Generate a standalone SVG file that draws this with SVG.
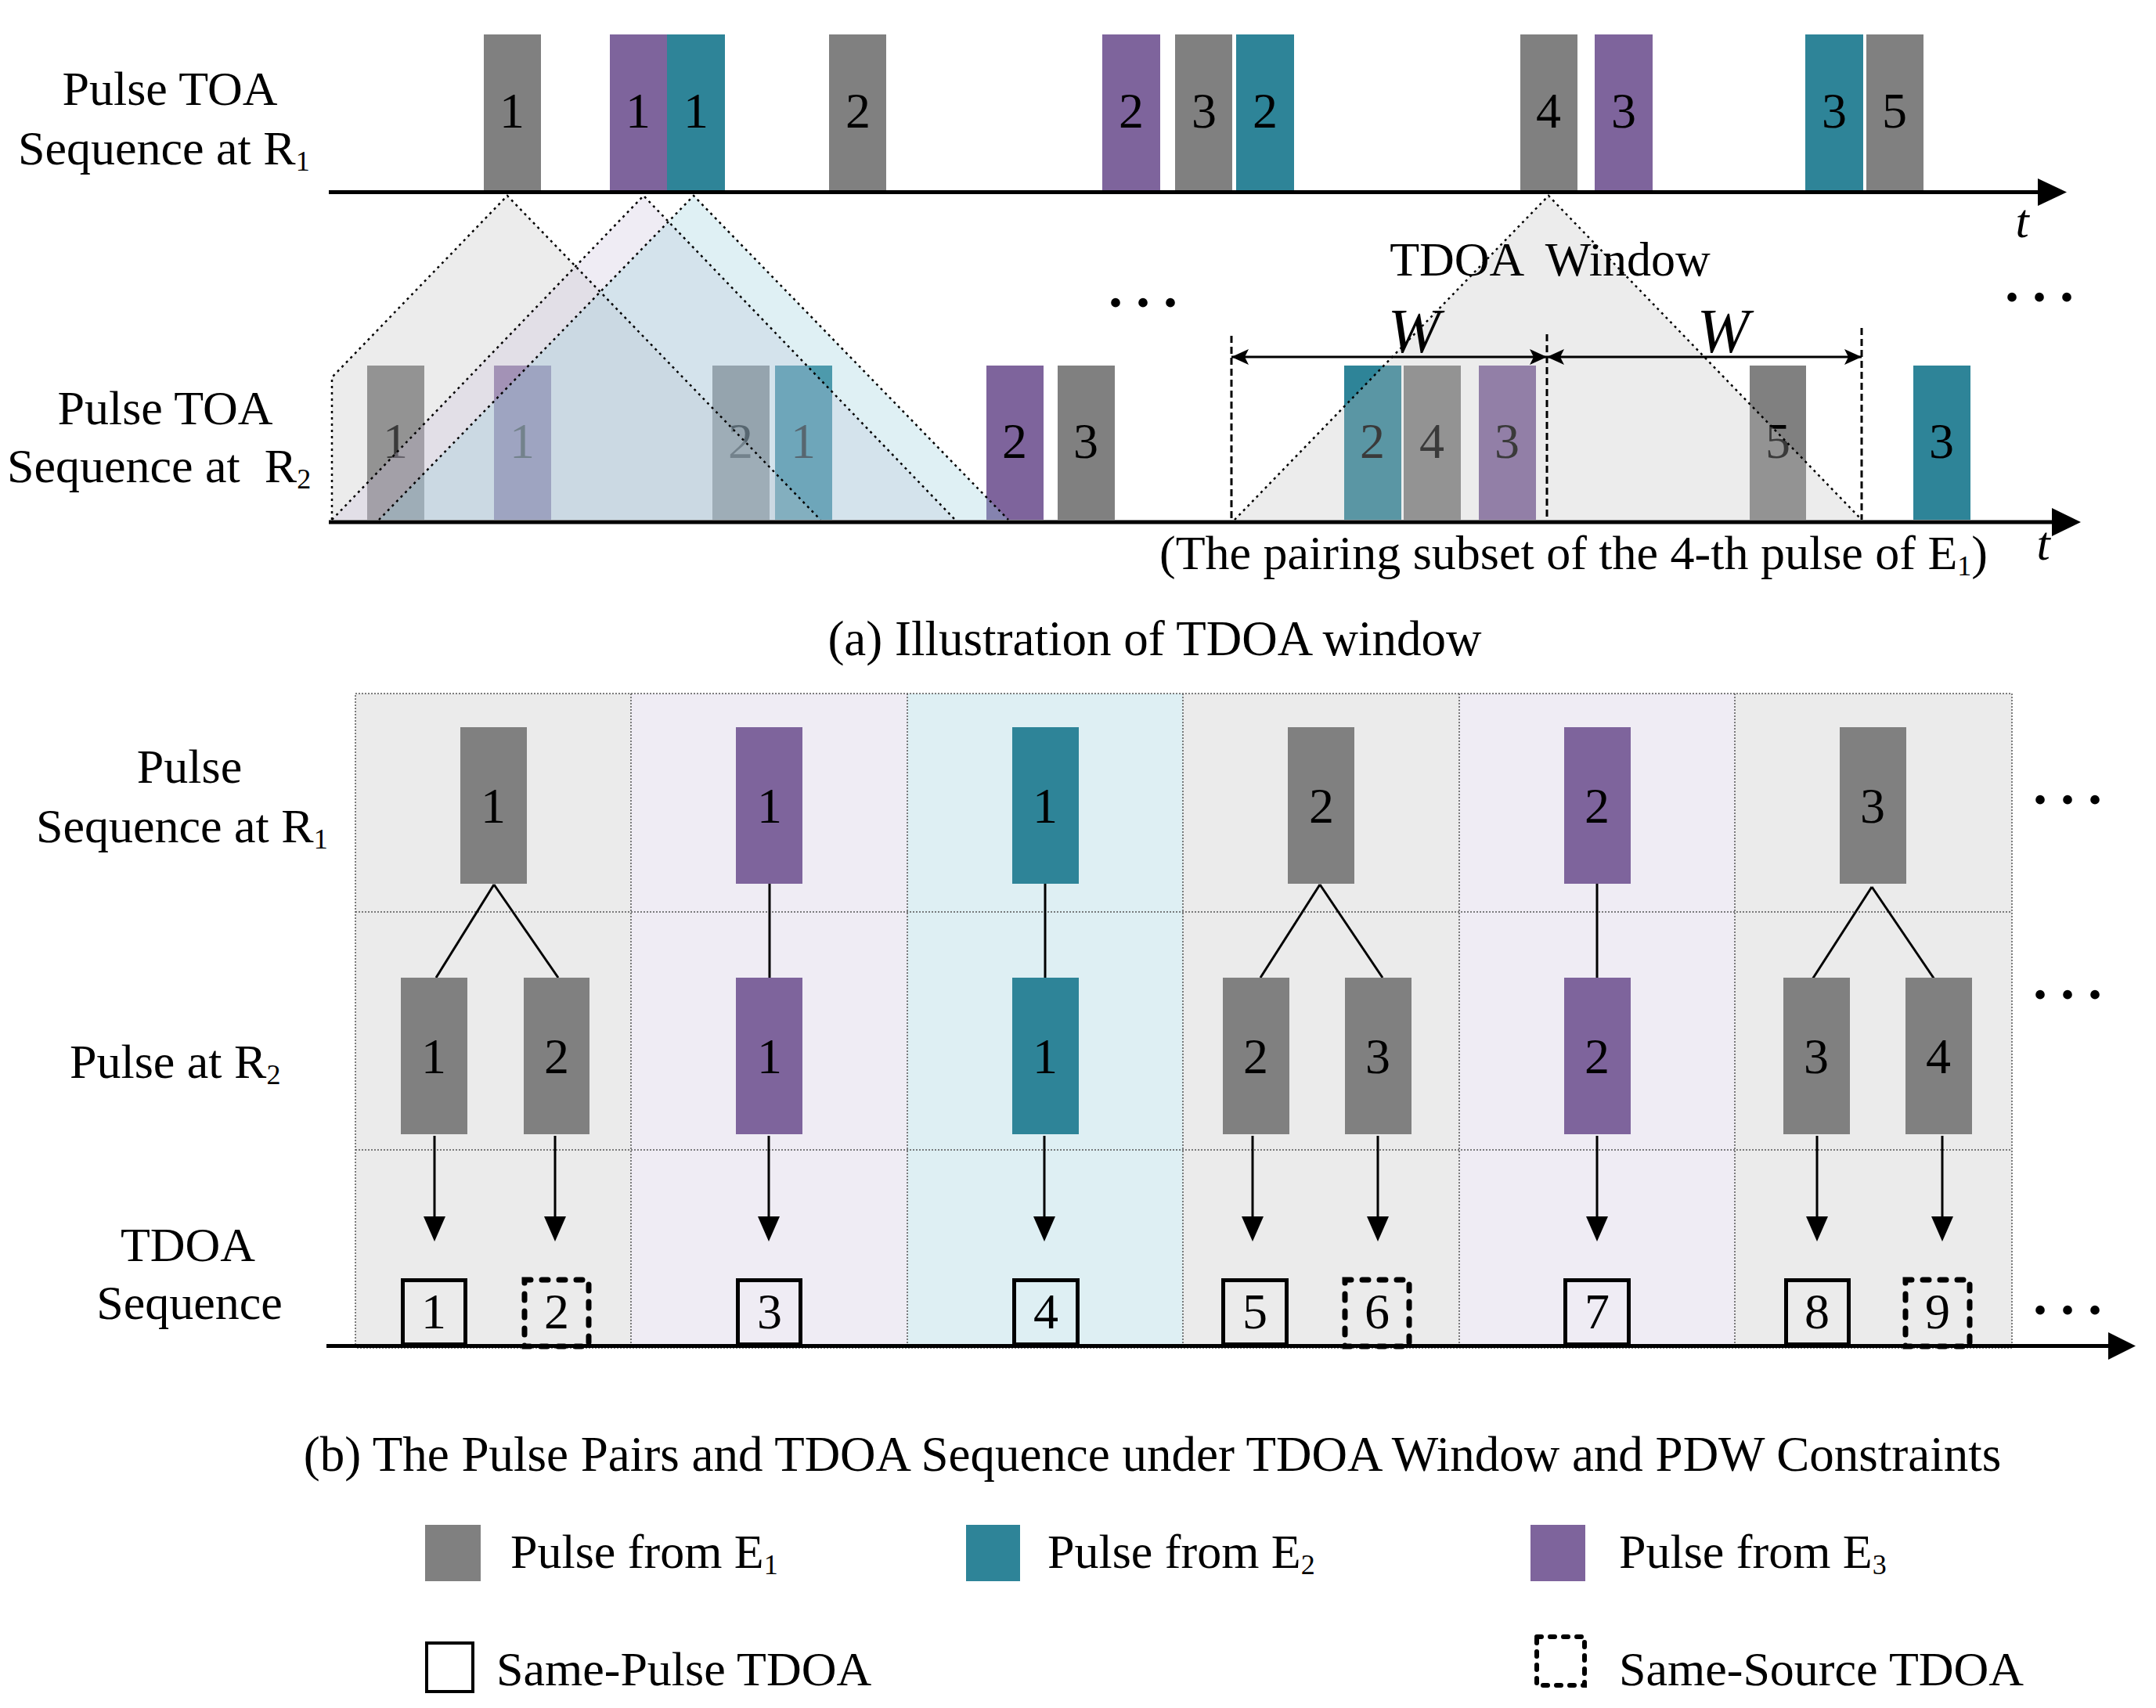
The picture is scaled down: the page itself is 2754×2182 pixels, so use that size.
<svg xmlns="http://www.w3.org/2000/svg" width="2754" height="2182" viewBox="0 0 2754 2182">
<style>
text{font-family:"Liberation Serif","Times New Roman",serif;fill:#000}
.lbl{font-size:62px}
.cap{font-size:63px;text-anchor:middle}
.num{font-size:64px;text-anchor:middle}
.mid{text-anchor:middle}
.it{font-style:italic}
.sub{font-size:36px}
.g{fill:#808080}
.p{fill:#7e649c}
.t{fill:#2e8498}
.ax{stroke:#000;stroke-width:5;fill:none}
.dot{stroke:#000;stroke-width:2.5;stroke-dasharray:3 5;fill:none}
.grid{stroke:#555;stroke-width:1.5;stroke-dasharray:2 2;fill:none}
.ln{stroke:#000;stroke-width:3;fill:none}
.arr{stroke:#000;stroke-width:3;fill:none;marker-end:url(#ah)}
.solid{fill:none;stroke:#000;stroke-width:5}
.dash{fill:none;stroke:#000;stroke-width:7;stroke-dasharray:8 14;stroke-linecap:round}
.vdash{stroke:#000;stroke-width:3;stroke-dasharray:9 5;fill:none}
.dots{font-size:72px;font-weight:bold;letter-spacing:17px}
</style>
<defs>
<marker id="ah" markerUnits="userSpaceOnUse" markerWidth="34" markerHeight="30" refX="4" refY="14" orient="auto">
<path d="M0,0 L32,14 L0,28 z" fill="#000"/>
</marker>
<marker id="st" markerUnits="userSpaceOnUse" markerWidth="24" markerHeight="22" refX="22" refY="10" orient="auto-start-reverse">
<path d="M0,0 L22,10 L0,20 L5,10 z" fill="#000"/>
</marker>
</defs>
<rect width="2754" height="2182" fill="#fff"/>

<!-- ===== Part (a) ===== -->
<g id="labels-a">
<text class="lbl mid" x="217" y="134">Pulse TOA</text>
<text class="lbl" x="23" y="210">Sequence at R<tspan class="sub" dy="8">1</tspan></text>
<text class="lbl mid" x="211" y="542">Pulse TOA</text>
<text class="lbl" x="9" y="616" style="white-space:pre">Sequence at  R<tspan class="sub" dy="8">2</tspan></text>
</g>

<g id="r1-pulses">
<g id="r1-e1-1"><rect class="g" x="618" y="44" width="73" height="199"/><text class="num" x="654" y="163">1</text></g>
<g id="r1-e3-1"><rect class="p" x="779" y="44" width="73" height="199"/><text class="num" x="815" y="163">1</text></g>
<g id="r1-e2-1"><rect class="t" x="852" y="44" width="74" height="199"/><text class="num" x="889" y="163">1</text></g>
<g id="r1-e1-2"><rect class="g" x="1059" y="44" width="73" height="199"/><text class="num" x="1096" y="163">2</text></g>
<g id="r1-e3-2"><rect class="p" x="1408" y="44" width="74" height="199"/><text class="num" x="1445" y="163">2</text></g>
<g id="r1-e1-3"><rect class="g" x="1501" y="44" width="73" height="199"/><text class="num" x="1538" y="163">3</text></g>
<g id="r1-e2-2"><rect class="t" x="1579" y="44" width="74" height="199"/><text class="num" x="1616" y="163">2</text></g>
<g id="r1-e1-4"><rect class="g" x="1942" y="44" width="73" height="199"/><text class="num" x="1978" y="163">4</text></g>
<g id="r1-e3-3"><rect class="p" x="2037" y="44" width="74" height="199"/><text class="num" x="2074" y="163">3</text></g>
<g id="r1-e2-3"><rect class="t" x="2306" y="44" width="74" height="199"/><text class="num" x="2343" y="163">3</text></g>
<g id="r1-e1-5"><rect class="g" x="2384" y="44" width="73" height="199"/><text class="num" x="2420" y="163">5</text></g>
</g>

<g id="r2-pulses">
<g id="r2-e1-1"><rect class="g" x="469" y="467" width="73" height="197"/><text class="num" x="505" y="585">1</text></g>
<g id="r2-e3-1"><rect class="p" x="631" y="467" width="73" height="197"/><text class="num" x="667" y="585">1</text></g>
<g id="r2-e1-2"><rect class="g" x="910" y="467" width="73" height="197"/><text class="num" x="946" y="585">2</text></g>
<g id="r2-e2-1"><rect class="t" x="990" y="467" width="73" height="197"/><text class="num" x="1026" y="585">1</text></g>
<g id="r2-e3-2"><rect class="p" x="1260" y="467" width="73" height="197"/><text class="num" x="1296" y="585">2</text></g>
<g id="r2-e1-3"><rect class="g" x="1351" y="467" width="73" height="197"/><text class="num" x="1387" y="585">3</text></g>
<g id="r2-e2-2"><rect class="t" x="1717" y="467" width="73" height="197"/><text class="num" x="1753" y="585">2</text></g>
<g id="r2-e1-4"><rect class="g" x="1793" y="467" width="73" height="197"/><text class="num" x="1829" y="585">4</text></g>
<g id="r2-e3-3"><rect class="p" x="1889" y="467" width="73" height="197"/><text class="num" x="1925" y="585">3</text></g>
<g id="r2-e1-5"><rect class="g" x="2235" y="467" width="72" height="197"/><text class="num" x="2271" y="585">5</text></g>
<g id="r2-e2-3"><rect class="t" x="2444" y="467" width="73" height="197"/><text class="num" x="2480" y="585">3</text></g>
</g>

<g id="windows">
<path d="M424,664 L424,482 L648,250 L1048,664 z" fill="#bfbfbf" fill-opacity="0.3"/>
<path d="M424,664 L822,250 L1220,664 z" fill="#c9c0da" fill-opacity="0.3"/>
<path d="M484,664 L886,250 L1288,664 z" fill="#94cdda" fill-opacity="0.3"/>
<path d="M1577,664 L1978,250 L2378,664 z" fill="#bfbfbf" fill-opacity="0.3"/>
<path class="dot" d="M424,664 L424,482 L648,250 L1048,664"/>
<path class="dot" d="M424,664 L822,250 L1220,664"/>
<path class="dot" d="M484,664 L886,250 L1288,664"/>
<path class="dot" d="M1577,664 L1978,250 L2378,664"/>
</g>

<g id="connectors-a">
<line class="ax" x1="420" y1="245.5" x2="2606" y2="245.5"/>
<polygon points="2603,228 2640,245.5 2603,263" fill="#000"/>
<line class="ax" x1="420" y1="667" x2="2624" y2="667"/>
<polygon points="2621,649 2658,667 2621,685" fill="#000"/>
<line class="vdash" x1="1573" y1="429" x2="1573" y2="664"/>
<line class="vdash" x1="1976" y1="427" x2="1976" y2="664"/>
<line class="vdash" x1="2378" y1="419" x2="2378" y2="664"/>
<line x1="1573" y1="456" x2="1976" y2="456" stroke="#000" stroke-width="3" marker-start="url(#st)" marker-end="url(#st)"/>
<line x1="1976" y1="456" x2="2378" y2="456" stroke="#000" stroke-width="3" marker-start="url(#st)" marker-end="url(#st)"/>
</g>

<g id="texts-a">
<text class="lbl mid" x="1980" y="352" style="white-space:pre">TDOA  Window</text>
<text class="it mid" x="1806" y="450" font-size="80">W</text>
<text class="it mid" x="2201" y="450" font-size="80">W</text>
<text class="lbl it mid" x="2583" y="303">t</text>
<text class="lbl it mid" x="2610" y="715">t</text>
<text class="dots" x="1416" y="392">...</text>
<text class="dots" x="2561" y="385">...</text>
<text class="lbl" x="1481" y="727">(The pairing subset of the 4-th pulse of E<tspan class="sub" dy="8">1</tspan><tspan dy="-8">)</tspan></text>
<text class="cap" x="1475" y="837">(a) Illustration of TDOA window</text>
</g>

<!-- ===== Part (b) ===== -->
<g id="grid-b">
<rect x="454" y="886" width="352" height="835" fill="#ebebeb"/>
<rect x="806" y="886" width="353" height="835" fill="#efecf4"/>
<rect x="1159" y="886" width="352" height="835" fill="#deeff3"/>
<rect x="1511" y="886" width="353" height="835" fill="#ebebeb"/>
<rect x="1864" y="886" width="352" height="835" fill="#efecf4"/>
<rect x="2216" y="886" width="354" height="835" fill="#ebebeb"/>
<path class="grid" d="M454,886 H2570 V1722 H454 z M806,886 V1722 M1159,886 V1722 M1511,886 V1722 M1864,886 V1722 M2216,886 V1722 M454,1165 H2570 M454,1469 H2570"/>
</g>

<g id="labels-b">
<text class="lbl mid" x="242" y="1000">Pulse</text>
<text class="lbl" x="46" y="1076">Sequence at R<tspan class="sub" dy="8">1</tspan></text>
<text class="lbl" x="89" y="1377">Pulse at R<tspan class="sub" dy="8">2</tspan></text>
<text class="lbl mid" x="240" y="1611">TDOA</text>
<text class="lbl mid" x="242" y="1685">Sequence</text>
</g>

<g id="connectors-b">
<line class="ln" x1="631" y1="1130" x2="557" y2="1249"/>
<line class="ln" x1="631" y1="1130" x2="713" y2="1249"/>
<line class="ln" x1="983" y1="1129" x2="983" y2="1249"/>
<line class="ln" x1="1335" y1="1129" x2="1335" y2="1249"/>
<line class="ln" x1="1686" y1="1130" x2="1610" y2="1249"/>
<line class="ln" x1="1686" y1="1130" x2="1766" y2="1249"/>
<line class="ln" x1="2040" y1="1129" x2="2040" y2="1249"/>
<line class="ln" x1="2391" y1="1133" x2="2315" y2="1251"/>
<line class="ln" x1="2391" y1="1133" x2="2471" y2="1251"/>
<line class="arr" x1="555" y1="1451" x2="555" y2="1558"/>
<line class="arr" x1="709" y1="1451" x2="709" y2="1558"/>
<line class="arr" x1="982" y1="1451" x2="982" y2="1558"/>
<line class="arr" x1="1334" y1="1451" x2="1334" y2="1558"/>
<line class="arr" x1="1600" y1="1451" x2="1600" y2="1558"/>
<line class="arr" x1="1760" y1="1451" x2="1760" y2="1558"/>
<line class="arr" x1="2040" y1="1451" x2="2040" y2="1558"/>
<line class="arr" x1="2321" y1="1451" x2="2321" y2="1558"/>
<line class="arr" x1="2481" y1="1451" x2="2481" y2="1558"/>
<line class="ax" x1="417" y1="1719.5" x2="2696" y2="1719.5"/>
<polygon points="2693,1702 2728,1719.5 2693,1737" fill="#000"/>
</g>

<g id="r1-b">
<g id="b-r1-1"><rect class="g" x="588" y="929" width="85" height="200"/><text class="num" x="630" y="1051">1</text></g>
<g id="b-r1-2"><rect class="p" x="940" y="929" width="85" height="200"/><text class="num" x="983" y="1051">1</text></g>
<g id="b-r1-3"><rect class="t" x="1293" y="929" width="85" height="200"/><text class="num" x="1335" y="1051">1</text></g>
<g id="b-r1-4"><rect class="g" x="1645" y="929" width="85" height="200"/><text class="num" x="1688" y="1051">2</text></g>
<g id="b-r1-5"><rect class="p" x="1998" y="929" width="85" height="200"/><text class="num" x="2040" y="1051">2</text></g>
<g id="b-r1-6"><rect class="g" x="2350" y="929" width="85" height="200"/><text class="num" x="2392" y="1051">3</text></g>
</g>

<g id="r2-b">
<g id="b-r2-1a"><rect class="g" x="512" y="1249" width="85" height="200"/><text class="num" x="554" y="1371">1</text></g>
<g id="b-r2-1b"><rect class="g" x="669" y="1249" width="84" height="200"/><text class="num" x="711" y="1371">2</text></g>
<g id="b-r2-2"><rect class="p" x="940" y="1249" width="85" height="200"/><text class="num" x="983" y="1371">1</text></g>
<g id="b-r2-3"><rect class="t" x="1293" y="1249" width="85" height="200"/><text class="num" x="1335" y="1371">1</text></g>
<g id="b-r2-4a"><rect class="g" x="1562" y="1249" width="85" height="200"/><text class="num" x="1604" y="1371">2</text></g>
<g id="b-r2-4b"><rect class="g" x="1718" y="1249" width="85" height="200"/><text class="num" x="1760" y="1371">3</text></g>
<g id="b-r2-5"><rect class="p" x="1998" y="1249" width="85" height="200"/><text class="num" x="2040" y="1371">2</text></g>
<g id="b-r2-6a"><rect class="g" x="2278" y="1249" width="85" height="200"/><text class="num" x="2320" y="1371">3</text></g>
<g id="b-r2-6b"><rect class="g" x="2434" y="1249" width="85" height="200"/><text class="num" x="2476" y="1371">4</text></g>
</g>

<g id="tdoa-b">
<g id="td1"><rect class="solid" x="514.5" y="1635.5" width="80" height="82"/><text class="num" x="554" y="1697">1</text></g>
<g id="td2"><rect class="dash" x="670" y="1635" width="82" height="85"/><text class="num" x="711" y="1697">2</text></g>
<g id="td3"><rect class="solid" x="942.5" y="1635.5" width="80" height="82"/><text class="num" x="983" y="1697">3</text></g>
<g id="td4"><rect class="solid" x="1295.5" y="1635.5" width="81" height="82"/><text class="num" x="1336" y="1697">4</text></g>
<g id="td5"><rect class="solid" x="1562.5" y="1635.5" width="81" height="82"/><text class="num" x="1603" y="1697">5</text></g>
<g id="td6"><rect class="dash" x="1718" y="1635" width="82" height="85"/><text class="num" x="1759" y="1697">6</text></g>
<g id="td7"><rect class="solid" x="1999.5" y="1635.5" width="81" height="82"/><text class="num" x="2040" y="1697">7</text></g>
<g id="td8"><rect class="solid" x="2281.5" y="1635.5" width="80" height="82"/><text class="num" x="2321" y="1697">8</text></g>
<g id="td9"><rect class="dash" x="2434" y="1635" width="82" height="85"/><text class="num" x="2475" y="1697">9</text></g>
</g>

<g id="dots-b">
<text class="dots" x="2597" y="1027">...</text>
<text class="dots" x="2597" y="1276">...</text>
<text class="dots" x="2597" y="1679">...</text>
</g>

<text class="cap" x="1472" y="1879">(b) The Pulse Pairs and TDOA Sequence under TDOA Window and PDW Constraints</text>

<g id="legend">
<g id="leg-e1"><rect class="g" x="543" y="1948" width="71" height="72"/><text class="lbl" x="652" y="2003">Pulse from E<tspan class="sub" dy="8">1</tspan></text></g>
<g id="leg-e2"><rect class="t" x="1234" y="1948" width="69" height="72"/><text class="lbl" x="1338" y="2003">Pulse from E<tspan class="sub" dy="8">2</tspan></text></g>
<g id="leg-e3"><rect class="p" x="1955" y="1948" width="70" height="72"/><text class="lbl" x="2068" y="2003">Pulse from E<tspan class="sub" dy="8">3</tspan></text></g>
<g id="leg-same-pulse"><rect x="545" y="2099" width="59" height="62" fill="none" stroke="#000" stroke-width="4"/><text class="lbl" x="634" y="2153">Same-Pulse TDOA</text></g>
<g id="leg-same-source"><rect x="1963" y="2091" width="61" height="62" fill="none" stroke="#000" stroke-width="6" stroke-dasharray="6 11" stroke-linecap="round"/><text class="lbl" x="2068" y="2153">Same-Source TDOA</text></g>
</g>
</svg>
